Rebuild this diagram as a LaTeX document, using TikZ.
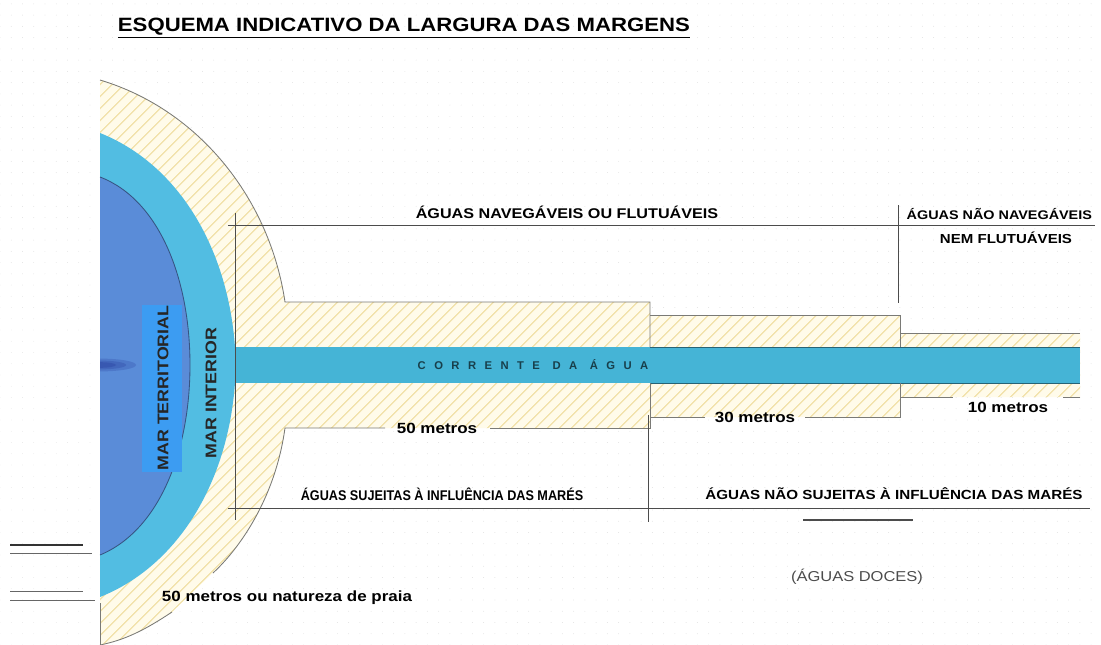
\documentclass[tikz,border=0pt]{standalone}
\usepackage{fontspec}
\setmainfont{Liberation Sans}
\newfontfamily\widefont[FakeStretch=1.15]{Liberation Sans}
\newfontfamily\slimfont[FakeStretch=0.9]{Liberation Sans}
\usetikzlibrary{patterns.meta}

\definecolor{sand}{HTML}{FFFBEA}
\definecolor{hatch}{HTML}{F2E3AE}
\definecolor{rivr}{HTML}{45B4D6}
\definecolor{inner}{HTML}{52BDE2}
\definecolor{terr}{HTML}{5A8CD8}
\definecolor{terrlbl}{HTML}{3C9CF2}
\definecolor{edge}{HTML}{7A7A76}

\begin{document}
\begin{tikzpicture}[x=0.025cm,y=-0.025cm]
\tikzset{hdr/.style={font=\widefont\bfseries\fontsize{10}{11}\selectfont, inner sep=1pt},
  meas/.style={font=\widefont\bfseries\fontsize{10.5}{12}\selectfont, inner sep=1pt},
  outl/.style={draw=edge, line width=0.6pt},
  guide/.style={draw=black!70, line width=0.7pt},
  stub/.style={draw=black!60, line width=0.6pt}}
\useasboundingbox (0,0) rectangle (1101,645);
\fill[pattern={Dots[distance=8pt,radius=0.35pt]}, pattern color=black!12] (0,0) rectangle (1101,645);

% margens (faixa tracejada)
\path[fill=sand, postaction={pattern={Lines[angle=45,distance=6.5pt,line width=1.1pt]}, pattern color=hatch}]
  (100,80) .. controls (200,110) and (270,200) .. (285,302) -- (650,302) -- (650,315)
  -- (900,315) -- (900,333) -- (1080,333) -- (1080,397) -- (900,397) -- (900,417)
  -- (650,417) -- (650,428) -- (285,428) .. controls (275,500) and (238,550) .. (213,573)
  -- (172,612) .. controls (145,630) and (125,640) .. (100,645) -- cycle;

% mar interior e corrente
\fill[inner] (100,133) .. controls (180,165) and (228,250) .. (235,347) -- (235,383)
  .. controls (228,480) and (180,565) .. (100,597) -- cycle;
\fill[rivr] (235,347) rectangle (1080,383);
\draw[rivr!55!black, line width=0.4pt] (650,347) -- (1080,347) (650,383) -- (1080,383);

% mar territorial
\fill[terr] (100,177) .. controls (160,200) and (190,280) .. (190,365)
  .. controls (190,450) and (160,530) .. (100,555) -- cycle;
\begin{scope}
  \clip (100,177) rectangle (200,555);
  \foreach \rx/\ry in {0.9/0.16, 0.65/0.11, 0.4/0.07}
    \fill[blue!45!black, opacity=0.14] (100,365) ellipse [x radius=\rx cm, y radius=\ry cm];
\end{scope}
\draw[terr!60!black, line width=0.6pt] (100,177) .. controls (160,200) and (190,280) .. (190,365)
  .. controls (190,450) and (160,530) .. (100,555);
\fill[terrlbl] (142,305) rectangle (182,472);

% contornos
\draw[outl] (100,80) .. controls (200,110) and (270,200) .. (285,302) -- (650,302) -- (650,347);
\draw[outl] (650,315) -- (900,315) -- (900,347);
\draw[outl] (900,333) -- (1080,333);
\draw[outl] (650,383) -- (650,428) -- (490,428);
\draw[outl] (385,428) -- (285,428) .. controls (275,500) and (238,550) .. (213,573);
\draw[outl] (172,612) .. controls (145,630) and (125,640) .. (100,645);
\draw[outl] (900,383) -- (900,417) -- (805,417);
\draw[outl] (705,417) -- (650,417);
\draw[outl] (900,397) -- (953,397);
\draw[outl] (1063,397) -- (1080,397);
\draw[outl] (100,603) -- (100,645);

% linhas de divisao
\draw[guide] (228,225) -- (1095,225);
\draw[guide] (235,213) -- (235,520);
\draw[guide] (898,205) -- (898,303);
\draw[guide] (228,508) -- (1090,508);
\draw[guide] (648,415) -- (648,522);
\draw[black!70, line width=1.6pt] (803,520) -- (913,520);

% tracos soltos a esquerda
\draw[black!80, line width=1.8pt] (10,545) -- (83,545);
\draw[stub] (10,553) -- (92,553);
\draw[stub] (10,591) -- (83,591);
\draw[stub] (10,600) -- (95,600);

% textos
\node[font=\widefont\bfseries\fontsize{13.7}{16}\selectfont, anchor=west] (title) at (113,28)
  {\underline{ESQUEMA INDICATIVO DA LARGURA DAS MARGENS}};
\node[hdr] (navig) at (567,212) {ÁGUAS NAVEGÁVEIS OU FLUTUÁVEIS};
\node[hdr, font=\widefont\bfseries\fontsize{8.9}{10}\selectfont, anchor=west] (naonavig) at (905,214) {ÁGUAS NÃO NAVEGÁVEIS};
\node[hdr, font=\widefont\bfseries\fontsize{9.3}{10}\selectfont] (nemflut) at (1006,238) {NEM FLUTUÁVEIS};
\node[hdr, font=\slimfont\bfseries\fontsize{10}{11}\selectfont] (sujeitas) at (442,494) {ÁGUAS SUJEITAS À INFLUÊNCIA DAS MARÉS};
\node[hdr, font=\widefont\bfseries\fontsize{9.4}{10}\selectfont] (naosujeitas) at (894,494) {ÁGUAS NÃO SUJEITAS À INFLUÊNCIA DAS MARÉS};
\node[font=\widefont\fontsize{10.2}{12}\selectfont, text=black!70] (doces) at (857,577) {(ÁGUAS DOCES)};
\node[meas] (m50) at (437,428) {50 metros};
\node[meas] (m30) at (755,417) {30 metros};
\node[meas] (m10) at (1008,407) {10 metros};
\node[meas] (praia) at (287,598) {50 metros ou natureza de praia};
\node[font=\bfseries\fontsize{8}{9}\selectfont\addfontfeatures{LetterSpace=75}, text=rivr!35!black]
  (corrente) at (533,365) {CORRENTE\hspace{9pt}DA\hspace{9pt}ÁGUA};
\node[hdr, font=\widefont\bfseries\fontsize{11}{12}\selectfont, rotate=90, text=black!85] (territorial) at (163,388) {MAR TERRITORIAL};
\node[hdr, font=\widefont\bfseries\fontsize{11}{12}\selectfont, rotate=90, text=black!85] (interior) at (211,393) {MAR INTERIOR};
\end{tikzpicture}
\end{document}
